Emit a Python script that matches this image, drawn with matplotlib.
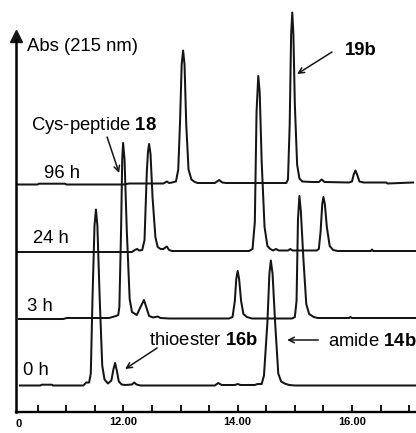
import matplotlib.pyplot as plt

plt.rcParams['font.family'] = ['Liberation Sans', 'DejaVu Sans']
plt.rcParams['mathtext.fontset'] = 'custom'
plt.rcParams['mathtext.rm'] = 'Liberation Sans'
plt.rcParams['mathtext.bf'] = 'Liberation Sans:bold'

# retention time (min) and absorbance (arb. units) for each run
t_0h = [10.19, 10.55, 10.57, 10.75, 10.77, 11.30, 11.35, 11.40, 11.43, 11.46, 11.495, 11.52, 11.545, 11.585,
        11.63, 11.67, 11.73, 11.79, 11.825, 11.855, 11.885, 11.92, 11.97, 12.03, 12.15, 12.19, 12.23, 12.30,
        13.60, 13.66, 13.72, 13.95, 14.00, 14.05, 14.30, 14.35, 14.42, 14.46, 14.52, 14.555, 14.58, 14.61,
        14.655, 14.71, 14.76, 14.82, 14.90, 15.00, 17.12]
a_0h = [0, 0, 0.8, 0.8, 0, 0, 3, 3, 12, 88, 160, 176, 160, 88,
        20, 6, 2, 5, 16, 22.5, 15, 4, 1, 0.5, 1, 3, 1, 0,
        0, 2.5, 0.5, 0.5, 1.5, 0.5, 0.5, 1.5, 1.5, 10, 63, 112, 125, 112,
        63, 12, 4, 2, 0.5, 0, 0]

t_3h = [10.175, 10.95, 11.01, 11.75, 11.87, 11.91, 11.93, 11.96, 11.98, 11.995, 12.02, 12.06, 12.11, 12.15,
        12.235, 12.30, 12.36, 12.40, 12.45, 12.52, 12.60, 12.65, 12.80, 13.85, 13.91, 13.95, 13.975, 14.00,
        14.025, 14.06, 14.10, 14.16, 14.25, 14.95, 15.00, 15.03, 15.055, 15.08, 15.105, 15.15, 15.20, 15.25,
        15.33, 15.40, 15.95, 15.97, 16.00, 17.12]
a_3h = [0, 0, 1, 1, 3, 4, 12, 90, 160, 176, 160, 88, 20, 7,
        4, 12, 19, 12, 3, 1.5, 2.5, 1, 0.5, 0.5, 2, 18, 40, 48,
        40, 18, 5, 2, 0.5, 0.5, 2, 18, 100, 123, 108, 60, 15, 5,
        2, 1, 1, 2, 1, 1]

t_24h = [10.116, 12.15, 12.20, 12.24, 12.28, 12.33, 12.37, 12.41, 12.43, 12.45, 12.475, 12.51, 12.56, 12.60,
         12.65, 12.70, 12.76, 12.80, 12.85, 14.20, 14.26, 14.30, 14.33, 14.36, 14.385, 14.42, 14.47, 14.52,
         14.57, 14.62, 14.67, 14.72, 14.88, 14.92, 14.96, 15.38, 15.42, 15.45, 15.48, 15.50, 15.525, 15.56,
         15.61, 15.67, 15.75, 16.33, 16.35, 16.37, 17.12]
a_24h = [0, 0, 2, 3, 1.5, 2, 12, 80, 100, 108, 98, 55, 15, 5,
         3, 3, 5.5, 2, 1, 1, 3, 30, 140, 176, 160, 90, 25, 6,
         3, 1.5, 3, 1.5, 1.5, 3, 1.5, 1.5, 3, 20, 48, 55, 48, 25,
         6, 2, 1, 1, 2.5, 1, 1]

t_96h = [10.116, 10.50, 10.52, 10.98, 11.00, 12.00, 12.10, 12.20, 12.70, 12.76, 12.80, 12.85, 12.92, 12.96,
         12.99, 13.02, 13.045, 13.07, 13.10, 13.14, 13.19, 13.25, 13.30, 13.60, 13.675, 13.73, 13.80, 14.85,
         14.88, 14.91, 14.935, 14.955, 14.975, 15.00, 15.04, 15.08, 15.13, 15.30, 15.42, 15.47, 15.52, 15.95,
         16.00, 16.03, 16.06, 16.09, 16.13, 16.20, 16.60, 16.62, 17.07]
a_96h = [0, 0, 0.8, 0.8, 0, 0, 1, 1, 1, 3, 1.5, 2, 3, 15,
         60, 120, 134, 120, 60, 15, 5, 2.5, 1.5, 1.5, 4.5, 2, 1.5, 1.5,
         5, 60, 150, 172, 150, 80, 20, 6, 3, 2.5, 2.5, 5, 2.5, 2,
         3, 10, 14, 10, 3, 2, 2, 1, 2]

runs = [(t_0h, a_0h, 26.5), (t_3h, a_3h, 93), (t_24h, a_24h, 160), (t_96h, a_96h, 227.5)]
run_labels = ['0 h', '3 h', '24 h', '96 h']

fig = plt.figure(figsize=(4.16, 4.33), dpi=100)
ax = fig.add_axes([15.7 / 416, 21 / 433, 400.3 / 416, 412 / 433])

for t, a, off in runs:
    ax.plot(t, [v + off for v in a], color='#151515', lw=1.45, solid_joinstyle='round')

ax.set_xlim(10.116, 17.12)
ax.set_ylim(0, 412)

# axes: arrow on y, ticks pointing in on x
for s in ['top', 'right']:
    ax.spines[s].set_visible(False)
ax.spines['left'].set_linewidth(1.8)
ax.spines['bottom'].set_linewidth(1.7)
ax.spines['left'].set_bounds(0, 372)
ax.plot(0, 376.5, '^', color='#151515', ms=9, transform=ax.get_yaxis_transform(), clip_on=False)
ax.set_yticks([])

ax.set_xticks([12, 14, 16])
ax.set_xticklabels(['12.00', '14.00', '16.00'], fontweight='bold', fontsize=8)
ax.set_xticks([10.5 + 0.5 * i for i in range(14)], minor=True)
ax.tick_params(axis='x', which='both', direction='in', length=5, width=1.3, pad=3.5)
ax.text(10.17, -0.028, '0', transform=ax.get_xaxis_transform(), ha='center', va='center',
        fontweight='bold', fontsize=8)

fs = 13.3
ax.text(10.314, 361.3, 'Abs (215 nm)', fontsize=fs, va='baseline')
ax.text(10.384, 282, r'Cys-peptide $\mathbf{18}$', fontsize=fs, va='baseline')
ax.text(12.45, 67, r'thioester $\mathbf{16b}$', fontsize=fs, va='baseline')
ax.text(15.58, 66.5, r'amide $\mathbf{14b}$', fontsize=fs, va='baseline')
ax.text(15.88, 357, '19b', fontsize=fs, fontweight='bold', va='baseline')

for lab, x, y in zip(run_labels, [10.245, 10.32, 10.42, 10.61], [37, 101.3, 168.6, 233.7]):
    ax.text(x, y, lab, fontsize=fs, va='baseline')

arr = dict(arrowstyle='->', color='#151515', lw=1.1, shrinkA=0, shrinkB=0)
ax.annotate('', xy=(15.04, 338), xytext=(15.65, 360), arrowprops=arr)
ax.annotate('', xy=(11.925, 239), xytext=(11.715, 275), arrowprops=arr)
ax.annotate('', xy=(12.03, 43), xytext=(12.59, 64), arrowprops=arr)
ax.annotate('', xy=(14.865, 72), xytext=(15.41, 72), arrowprops=arr)

plt.savefig('out.png', dpi=100)
